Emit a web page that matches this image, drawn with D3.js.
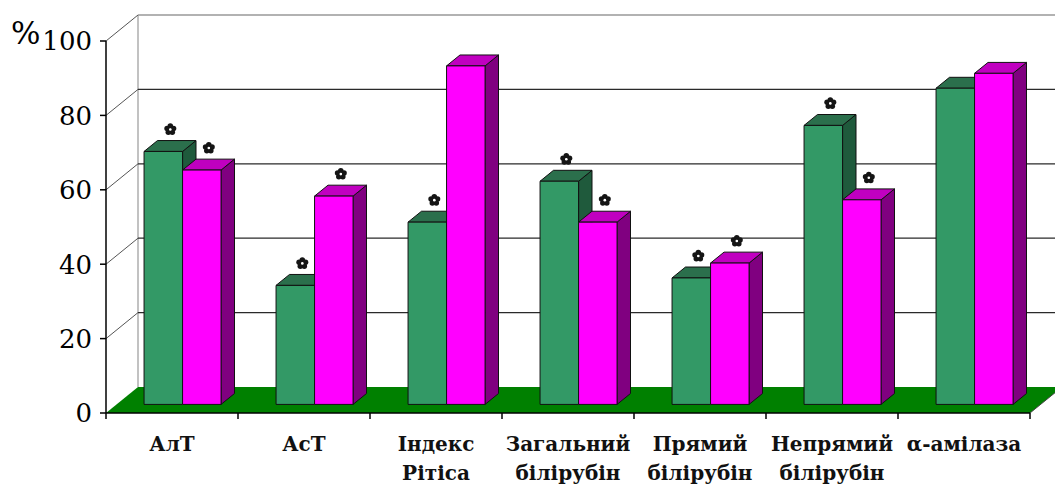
<!DOCTYPE html>
<html>
<head>
<meta charset="utf-8">
<script src="https://cdn.jsdelivr.net/npm/d3@7"></script>
<style>
  html, body { margin: 0; padding: 0; background: #fff; }
  svg { display: block; }
</style>
</head>
<body>
<svg id="chart" width="1055" height="488"></svg>
<script>
// Category labels (two-line labels split by "\n")
const categories = ["АлТ", "АсТ", "Індекс\nРітіса", "Загальний\nбілірубін", "Прямий\nбілірубін", "Непрямий\nбілірубін", "α-амілаза"];
const seriesNames = ["group1", "group2"];
// Values, %
const greenValues = [68, 32, 49, 60, 34, 75, 85];
const magentaValues = [63, 56, 91, 49, 38, 55, 89];
// Significance markers (true = star above the bar)
const greenStars = [true, true, true, true, true, true, false];
const magentaStars = [true, true, false, true, true, true, false];
const yTicks = [0, 20, 40, 60, 80, 100];

(function () {
const svg = d3.select("#chart");
const serifFont = "'DejaVu Serif', 'Liberation Serif', serif";

// Front plane geometry and 3D depth offset
const plotLeft = 106, plotRight = 1030, plotBottom = 413, plotTop = 41;
const depthX = 32, depthY = -26;

const y = d3.scaleLinear().domain([0, 100]).range([plotBottom, plotTop]);
const x = d3.scaleBand().domain(categories).range([plotLeft, plotRight]);
const groupWidth = 77;
const xs = d3.scaleBand().domain(seriesNames).range([0, groupWidth]);

// project a point on the front plane back by depth fraction f
const P = (px, py, f) => [px + f * depthX, py + f * depthY];
const poly = pts => pts.map(p => p.join(",")).join(" ");
const back = (v) => y(v) + depthY;

// Left wall edge and top border
svg.append("line").attr("x1", plotLeft + depthX).attr("x2", plotLeft + depthX)
  .attr("y1", back(100)).attr("y2", back(0)).attr("stroke", "#999").attr("stroke-width", 1.2);
svg.append("line").attr("x1", plotLeft + depthX).attr("x2", 1055)
  .attr("y1", back(100)).attr("y2", back(100)).attr("stroke", "#999").attr("stroke-width", 1.5);

// Gridlines on back wall
svg.selectAll(".grid").data(yTicks.filter(v => v > 0 && v < 100)).enter()
  .append("line")
  .attr("x1", plotLeft + depthX).attr("x2", 1055)
  .attr("y1", d => back(d)).attr("y2", d => back(d))
  .attr("stroke", "#2a2a2a").attr("stroke-width", 1.3);

// Diagonals on left wall from front ticks to the back wall
svg.selectAll(".diag").data(yTicks.filter(v => v > 0)).enter()
  .append("line")
  .attr("x1", plotLeft).attr("y1", d => y(d))
  .attr("x2", plotLeft + depthX).attr("y2", d => back(d))
  .attr("stroke", "#555").attr("stroke-width", 1);

// Floor
svg.append("polygon")
  .attr("points", poly([[plotLeft, y(0)], [plotRight, y(0)], [plotRight + depthX, back(0)], [plotLeft + depthX, back(0)]]))
  .attr("fill", "#008000");

// Bars
const f0 = 0.33, f1 = 0.75;
const styles = {
  group1: { front: "#339966", top: "#2b6f4c", side: "#1f5a3c" },
  group2: { front: "#ff00ff", top: "#c000c0", side: "#800080" }
};
const barsG = svg.append("g");
const starsG = svg.append("g");

// small five-petal florette used as the significance marker
const petal = d3.symbol().type(d3.symbolCircle).size(24);
const drawStar = (cx, cy) => {
  const g = starsG.append("g").attr("transform", `translate(${cx},${cy})`);
  d3.range(5).forEach(k => {
    const a = (-90 + 72 * k) * Math.PI / 180;
    g.append("path").attr("d", petal)
      .attr("transform", `translate(${3.4 * Math.cos(a)},${3.4 * Math.sin(a)})`)
      .attr("fill", "#151515");
  });
  g.append("circle").attr("r", 1.3).attr("fill", "#fff");
};

categories.forEach((c, i) => {
  [["group1", greenValues[i], greenStars[i]], ["group2", magentaValues[i], magentaStars[i]]].forEach(([s, v, star]) => {
    const x0 = x(c) + (x.bandwidth() - groupWidth) / 2 + xs(s);
    const x1 = x0 + xs.bandwidth();
    const yb = y(0), yt = y(v);
    const st = styles[s];
    const g = barsG.append("g").attr("stroke", "#111").attr("stroke-width", 1).attr("stroke-linejoin", "round");
    // side face
    g.append("polygon").attr("fill", st.side)
      .attr("points", poly([P(x1, yb, f0), P(x1, yb, f1), P(x1, yt, f1), P(x1, yt, f0)]));
    // top face
    g.append("polygon").attr("fill", st.top)
      .attr("points", poly([P(x0, yt, f0), P(x1, yt, f0), P(x1, yt, f1), P(x0, yt, f1)]));
    // front face
    g.append("polygon").attr("fill", st.front)
      .attr("points", poly([P(x0, yb, f0), P(x1, yb, f0), P(x1, yt, f0), P(x0, yt, f0)]));
    if (star) {
      const [sx, sy] = P((x0 + x1) / 2, yt, f0);
      drawStar(sx + 7, sy - 22);
    }
  });
});

// Y axis
svg.append("line").attr("x1", plotLeft).attr("x2", plotLeft).attr("y1", y(100)).attr("y2", y(0))
  .attr("stroke", "#000").attr("stroke-width", 1.5);
svg.selectAll(".ytick").data(yTicks).enter().append("line")
  .attr("x1", plotLeft - 6).attr("x2", plotLeft).attr("y1", d => y(d)).attr("y2", d => y(d))
  .attr("stroke", "#000").attr("stroke-width", 1.5);
svg.selectAll(".ylab").data(yTicks).enter().append("text")
  .style("font-family", serifFont)
  .attr("x", 92).attr("y", d => y(d)).attr("dy", "0.36em")
  .attr("text-anchor", "end")
  .style("font-size", "26px")
  .attr("fill", "#000")
  .text(d => d);
svg.append("text").style("font-family", serifFont).attr("x", 11).attr("y", 44)
  .style("font-size", "31px").attr("fill", "#000")
  .text("%");

// X axis
svg.append("line").attr("x1", plotLeft).attr("x2", plotRight).attr("y1", y(0)).attr("y2", y(0))
  .attr("stroke", "#000").attr("stroke-width", 1.5);
svg.append("line").attr("x1", plotRight).attr("x2", plotRight + depthX).attr("y1", y(0)).attr("y2", back(0))
  .attr("stroke", "#444").attr("stroke-width", 1);
const bounds = categories.map(c => x(c)).concat([plotRight]);
svg.selectAll(".xtick").data(bounds).enter().append("line")
  .attr("x1", d => d).attr("x2", d => d).attr("y1", y(0)).attr("y2", y(0) + 6)
  .attr("stroke", "#000").attr("stroke-width", 1.5);
categories.forEach(c => {
  const lines = c.split("\n");
  const t = svg.append("text")
    .style("font-family", serifFont)
    .attr("x", x(c) + x.bandwidth() / 2)
    .attr("y", 451)
    .attr("text-anchor", "middle")
    .style("font-weight", "bold")
    .style("font-size", "20px")
    .attr("fill", "#111");
  lines.forEach((l, k) => {
    t.append("tspan").attr("x", x(c) + x.bandwidth() / 2).attr("dy", k === 0 ? 0 : 29).text(l);
  });
});
})();
</script>
</body>
</html>
